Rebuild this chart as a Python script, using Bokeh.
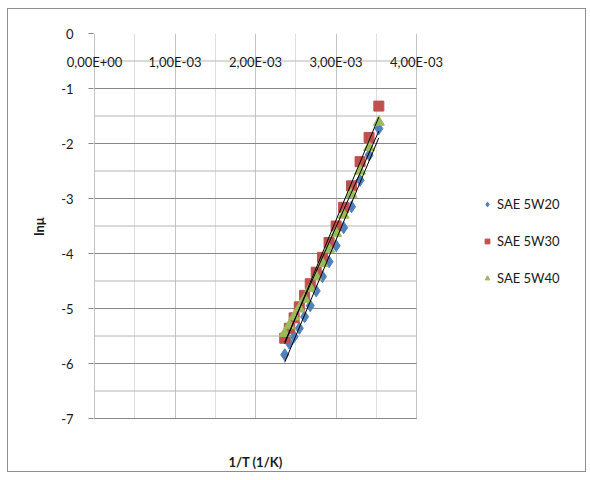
import json
import numpy as np
from bokeh.plotting import figure
from bokeh.models import (FixedTicker, LinearAxis, Legend, LegendItem,
                          CustomJSTickFormatter, Range1d)
from bokeh.embed import file_html
from bokeh.resources import INLINE

# ---- data ----
inv_T = [3.532e-3, 3.411e-3, 3.299e-3, 3.193e-3, 3.095e-3, 3.002e-3, 2.914e-3,
         2.832e-3, 2.754e-3, 2.680e-3, 2.610e-3, 2.544e-3, 2.480e-3, 2.420e-3, 2.363e-3]
sae_5w20 = [-1.73, -2.21, -2.67, -3.15, -3.53, -3.86, -4.15, -4.42, -4.68, -4.95,
            -5.15, -5.36, -5.51, -5.63, -5.84]
sae_5w30 = [-1.32, -1.89, -2.33, -2.77, -3.16, -3.50, -3.80, -4.07, -4.34, -4.55,
            -4.76, -4.97, -5.17, -5.36, -5.54]
sae_5w40 = [-1.61, -2.07, -2.50, -2.92, -3.30, -3.63, -3.92, -4.18, -4.42, -4.63,
            -4.83, -5.00, -5.15, -5.31, -5.45]
series_names = ["SAE 5W20", "SAE 5W30", "SAE 5W40"]
x_ticks = [0, 1e-3, 2e-3, 3e-3, 4e-3]
x_minor = [0.5e-3, 1.5e-3, 2.5e-3, 3.5e-3]
y_ticks = [-7, -6, -5, -4, -3, -2, -1, 0]
y_minor = [-6.5, -5.5, -4.5, -3.5, -2.5, -1.5, -0.5]
x_title = "1/T (1/K)"
y_title = "lnμ"

FONT = "Lato"
W, H = 579, 464
# plot area 0..4e-3 spans 322 px; the frame is extended to the right
# so that the legend can sit inside it.
MB_L, MB_R, MB_T, MB_B = 86, 6, 25, 44
frame_w = W - MB_L - MB_R
frame_h = H - MB_T - MB_B
px_x = 322.0 / x_ticks[-1]
px_y = 394.0 / 7.0
x_lo = -1.0 / px_x
x_hi = x_lo + frame_w / px_x
y_hi = 0.0
y_lo = y_hi - frame_h / px_y

p = figure(width=W, height=H, output_backend="svg", toolbar_location=None,
           x_range=Range1d(x_lo, x_hi), y_range=Range1d(y_lo, y_hi),
           x_axis_location="above",
           min_border_left=MB_L, min_border_right=MB_R, min_border_top=MB_T,
           min_border_bottom=MB_B)
p.styles = {"margin-left": "7px", "margin-top": "8px",
            "box-shadow": "inset 0 0 0 1px #8e8e8e"}
p.outline_line_color = None
p.background_fill_color = "white"
p.border_fill_alpha = 0

# vertical grid lines
p.xgrid.ticker = FixedTicker(ticks=x_ticks, minor_ticks=x_minor)
p.xgrid.grid_line_color = "#c4c4c4"
p.xgrid.minor_grid_line_color = "#dedede"
# horizontal grid lines, limited to the plot area 0..4e-3
p.ygrid.visible = False
x_ends = [x_ticks[0], x_ticks[-1]]
for yv in y_minor:
    p.line(x_ends, [yv, yv], line_color="#b5b5b5", line_width=1)
for yv in y_ticks[:-1]:
    p.line(x_ends, [yv, yv], line_color="#878787", line_width=1)

# x axis labels (drawn just under the y=0 axis, inside the plot)
xa = p.xaxis[0]
xa.ticker = FixedTicker(ticks=x_ticks, minor_ticks=[])
xa.formatter = CustomJSTickFormatter(code="""
    let s = tick.toExponential(2).replace('.', ',');
    return s.replace(/e([+-])(\\d)$/, 'E$10$2').replace(/e([+-])(\\d\\d)$/, 'E$1$2');
""")
xa.axis_line_color = None
xa.major_tick_out = 0
xa.major_tick_in = 0
xa.minor_tick_out = 0
xa.major_label_standoff = -36
xa.major_label_text_font = FONT
xa.major_label_text_font_size = "13px"
xa.major_label_text_color = "#1a1a1a"

# bottom axis carrying the x title, centred under the plot area
xb = LinearAxis(ticker=FixedTicker(ticks=[(x_ticks[0] + x_ticks[-1]) / 2], minor_ticks=[]),
                formatter=CustomJSTickFormatter(code="return %s;" % json.dumps(x_title)),
                axis_line_color=None, major_tick_out=0, major_tick_in=0,
                minor_tick_out=0, major_label_standoff=34,
                major_label_text_font=FONT, major_label_text_font_size="13px",
                major_label_text_font_style="bold", major_label_text_color="#1a1a1a")
p.add_layout(xb, "below")

ya = p.yaxis[0]
ya.ticker = FixedTicker(ticks=y_ticks, minor_ticks=[])
ya.formatter = CustomJSTickFormatter(code="return String(tick);")
ya.axis_line_color = None
ya.major_tick_out = 5
ya.major_tick_in = 0
ya.minor_tick_out = 0
ya.major_tick_line_color = "#878787"
ya.major_label_standoff = 15
ya.major_label_text_font = FONT
ya.major_label_text_font_size = "13px"
ya.major_label_text_color = "#1a1a1a"
ya.axis_label = y_title
ya.axis_label_standoff = 11
ya.axis_label_text_font = FONT
ya.axis_label_text_font_size = "13px"
ya.axis_label_text_font_style = "bold"
ya.axis_label_text_color = "#1a1a1a"

r1 = p.scatter(inv_T, sae_5w20, marker="diamond", size=12,
               fill_color="#4F81BD", line_color="#4F81BD")
r2 = p.scatter(inv_T, sae_5w30, marker="square", size=10,
               fill_color="#C0504D", line_color="#C0504D")
r3 = p.scatter(inv_T, sae_5w40, marker="triangle", size=11,
               fill_color="#9BBB59", line_color="#9BBB59")

# linear trendlines (least squares) over the data range
xs = np.array(inv_T)
for ys in (sae_5w20, sae_5w30, sae_5w40):
    k, b = np.polyfit(xs, np.array(ys), 1)
    xe = [xs.min(), xs.max()]
    p.line(xe, [k * xe[0] + b, k * xe[1] + b], line_color="black", line_width=1)

legend = Legend(items=[LegendItem(label=series_names[0], renderers=[r1]),
                       LegendItem(label=series_names[1], renderers=[r2]),
                       LegendItem(label=series_names[2], renderers=[r3])],
                location=(388, 131), orientation="vertical",
                border_line_color=None, background_fill_alpha=0,
                label_text_font=FONT, label_text_font_size="13px",
                label_text_color="#1a1a1a",
                glyph_width=12, glyph_height=20, label_height=20,
                spacing=17, padding=10, label_standoff=4, margin=0)
p.add_layout(legend, "center")

open("out.html", "w").write(file_html(p, INLINE))
